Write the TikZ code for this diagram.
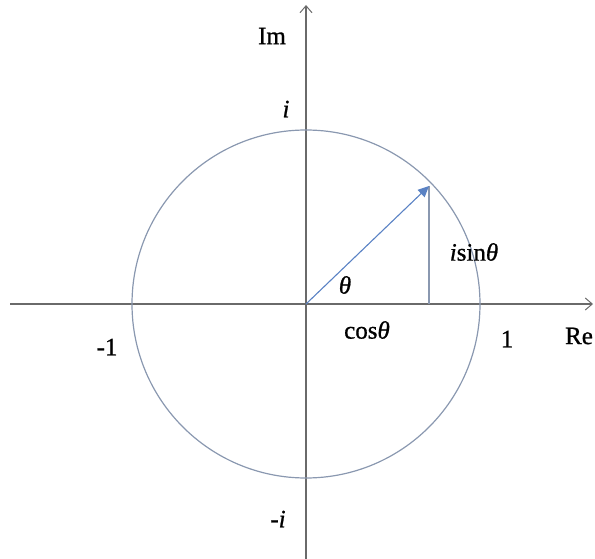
\documentclass[tikz,border=0pt]{standalone}
\usepackage{fontspec}
\setmainfont{Liberation Serif}[FakeBold=0.8]
\usetikzlibrary{arrows.meta}
\definecolor{axisgray}{HTML}{6A6A6A}
\definecolor{circgray}{HTML}{8A98B0}
\definecolor{vecblue}{HTML}{5A82C4}
\begin{document}
\begin{tikzpicture}[x=1pt,y=-1pt,
  axis/.style={draw=axisgray,line width=1.3pt,-{Straight Barb[length=7pt,width=12pt,line width=1pt]}},
  lbl/.style={font=\fontsize{25}{28}\selectfont,inner sep=0pt}]
\useasboundingbox (0,0) rectangle (595,559);
\coordinate (O) at (306,304);
\coordinate (xl) at (10,304);
\coordinate (xr) at (593,304);
\coordinate (yb) at (306,559);
\coordinate (yt) at (306,5);
\coordinate (P) at (429,186);
\coordinate (Q) at (429,304);
\draw[axis] (xl) -- (xr);
\draw[axis] (yb) -- (yt);
\draw[circgray,line width=1.2pt] (O) circle[radius=174];
\draw[circgray,line width=1.1pt] (P) -- (Q);
\draw[vecblue,line width=1.1pt,-{Triangle[length=11pt,width=10pt]}] (O) -- (P);
\node[lbl] (im) at (272,36) {Im};
\node[lbl] (ii) at (286,109) {\textit{i}};
\node[lbl] (mi) at (278,519) {-\textit{i}};
\node[lbl] (m1) at (107,347) {-1};
\node[lbl] (one) at (507,339) {1};
\node[lbl] (re) at (579,336) {Re};
\node[lbl] (cos) at (367,330) {cos\textit{θ}};
\node[lbl] (sin) at (474,252) {\textit{i}sin\textit{θ}};
\node[lbl] (th) at (345,285) {\textit{θ}};
\end{tikzpicture}
\end{document}
